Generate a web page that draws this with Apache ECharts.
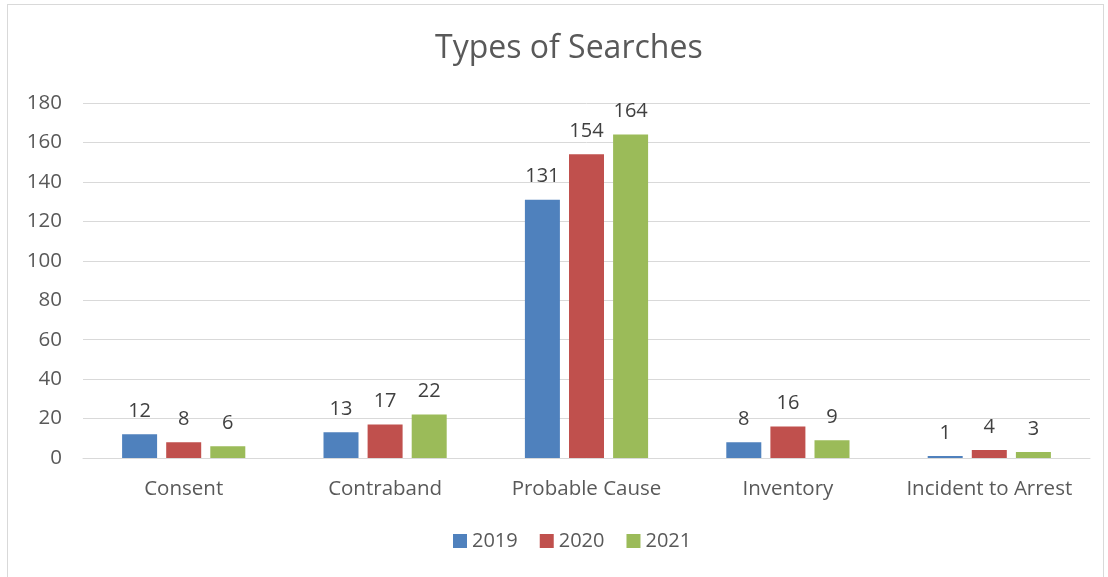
<!DOCTYPE html>
<html>
<head>
<meta charset="utf-8">
<script src="https://cdn.jsdelivr.net/npm/echarts@6/dist/echarts.min.js"></script>
<style>
  html, body { margin: 0; padding: 0; background: #fff; }
  #frame { position: absolute; left: 7px; top: 4px; width: 1097px; height: 580px; border: 1px solid #d9d9d9; box-sizing: border-box; }
  #chart { position: absolute; left: 0; top: 0; width: 1108px; height: 577px; }
</style>
</head>
<body>
<div id="frame"></div>
<div id="chart"></div>
<script>
const categories = ["Consent", "Contraband", "Probable Cause", "Inventory", "Incident to Arrest"];
const years = ["2019", "2020", "2021"];
const values2019 = [12, 13, 131, 8, 1];
const values2020 = [8, 17, 154, 16, 4];
const values2021 = [6, 22, 164, 9, 3];
const colors = ["#4f81bd", "#c0504d", "#9bbb59"];

const font = "'Open Sans', sans-serif";

const makeSeries = (name, data) => ({
  name: name,
  type: "bar",
  data: data,
  barWidth: 35,
  barGap: "26%",
  label: {
    show: true,
    position: "top",
    distance: 13,
    color: "#404040",
    fontSize: 20,
    fontFamily: font,
  },
});

const chart = echarts.init(document.getElementById("chart"));
chart.setOption({
  color: colors,
  animation: false,
  title: {
    text: "Types of Searches",
    left: 430,
    top: 28,
    textStyle: {
      color: "#595959",
      fontSize: 32,
      fontWeight: "normal",
      fontFamily: font,
    },
  },
  legend: {
    data: years,
    bottom: 21,
    left: 448,
    itemWidth: 14,
    itemHeight: 14,
    itemGap: 22,
    icon: "rect",
    textStyle: { color: "#595959", fontSize: 20, fontFamily: font },
  },
  grid: {
    left: 83,
    right: 18,
    top: 103,
    bottom: 119,
  },
  xAxis: {
    type: "category",
    data: categories,
    axisLine: { lineStyle: { color: "#d9d9d9", width: 1 } },
    axisTick: { show: false },
    axisLabel: {
      color: "#595959",
      fontSize: 20.5,
      fontFamily: font,
      margin: 21,
      interval: 0,
    },
  },
  yAxis: {
    type: "value",
    min: 0,
    max: 180,
    interval: 20,
    axisLine: { show: false },
    axisTick: { show: false },
    splitLine: { lineStyle: { color: "#d9d9d9", width: 1 } },
    axisLabel: {
      color: "#595959",
      fontSize: 20.5,
      fontFamily: font,
      margin: 21,
    },
  },
  series: [
    makeSeries(years[0], values2019),
    makeSeries(years[1], values2020),
    makeSeries(years[2], values2021),
  ],
});
</script>
</body>
</html>
